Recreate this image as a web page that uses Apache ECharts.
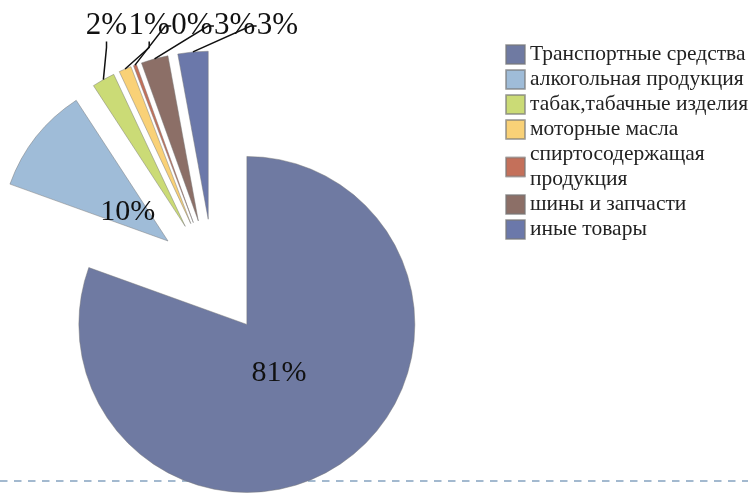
<!DOCTYPE html>
<html><head><meta charset="utf-8">
<script src="https://cdn.jsdelivr.net/npm/echarts@6/dist/echarts.min.js"></script>
<style>html,body{margin:0;padding:0;background:#fff}#c{width:748px;height:497px}</style>
</head><body><div id="c"></div>
<script>
const categories = ['Транспортные средства','алкогольная продукция','табак,табачные изделия','моторные масла','спиртосодержащая продукция','шины и запчасти','иные товары'];
const shares = [80.5, 10.3, 2.2, 1.2, 0.3, 2.6, 2.9];

const FONT = "'Liberation Serif','Times New Roman',serif";
const chart = echarts.init(document.getElementById('c'), null, {renderer: 'canvas'});

const CENTER = [213.5, 277], R = 168, EXPLODE = 58;
const pct = p => Math.round(p.percent) + '%';

const mainData = categories.map((name, i) => {
  const item = { name: name, value: shares[i], selected: true };
  if (i >= 2) { item.label = { show: false }; item.labelLine = { show: false }; }
  return item;
});
const overlayData = categories.map((name, i) => ({
  name: name, value: shares[i],
  label: { show: i >= 2 }, labelLine: { show: i >= 2 }
}));

chart.setOption({
  animation: false,
  color: ['#6f7aa2','#9fbcd8','#cbdb76','#f9d177','#c4705a','#8c6f67','#6b78aa'],
  graphic: [{
    type: 'line', z: -10,
    shape: { x1: 0, y1: 481, x2: 748, y2: 481 },
    style: { stroke: '#a3b9cf', lineWidth: 2, lineDash: [7.5, 6.5] }
  }],
  legend: {
    orient: 'vertical', left: 500, top: 37,
    itemWidth: 19, itemHeight: 19, itemGap: 0,
    icon: 'rect',
    selectedMode: false,
    data: categories,
    textStyle: { fontFamily: FONT, fontSize: 21.5, color: '#222', lineHeight: 25 },
    formatter: n => n === 'спиртосодержащая продукция' ? 'спиртосодержащая\nпродукция' : n
  },
  series: [{
    type: 'pie',
    center: CENTER,
    radius: R,
    startAngle: 90,
    clockwise: true,
    selectedMode: 'multiple',
    selectedOffset: EXPLODE,
    avoidLabelOverlap: false,
    emphasis: { disabled: true },
    select: { itemStyle: { borderColor: 'rgba(120,120,120,0.6)', borderWidth: 0.8 } },
    itemStyle: { borderColor: 'rgba(120,120,120,0.6)', borderWidth: 0.8 },
    label: {
      show: true, position: 'inside',
      fontFamily: FONT, fontSize: 30, color: '#111',
      formatter: pct
    },
    labelLine: { show: false },
    labelLayout: function (p) {
      if (p.dataIndex === 0) return { dx: -18, dy: -23 };
      if (p.dataIndex === 1) return { dx: 28, dy: 25 };
    },
    data: mainData
  }, {
    // invisible ring at the exploded outer edge, carrying the outside labels
    type: 'pie',
    center: CENTER,
    radius: R + EXPLODE,
    startAngle: 90,
    clockwise: true,
    silent: true,
    z: 5,
    avoidLabelOverlap: false,
    emphasis: { disabled: true },
    itemStyle: { color: 'rgba(0,0,0,0)', borderWidth: 0 },
    label: {
      position: 'outside',
      fontFamily: FONT, fontSize: 31, color: '#111',
      padding: [0, 0, 9, 0],
      formatter: pct
    },
    labelLine: { length: 10, length2: 6, lineStyle: { color: '#111', width: 1.5 } },
    labelLayout: function (p) {
      const i = p.dataIndex;
      if (i < 2) return;
      return { x: 106.5 + (i - 2) * 42.7, y: 26, align: 'center', verticalAlign: 'middle' };
    },
    data: overlayData
  }]
});
</script></body></html>
